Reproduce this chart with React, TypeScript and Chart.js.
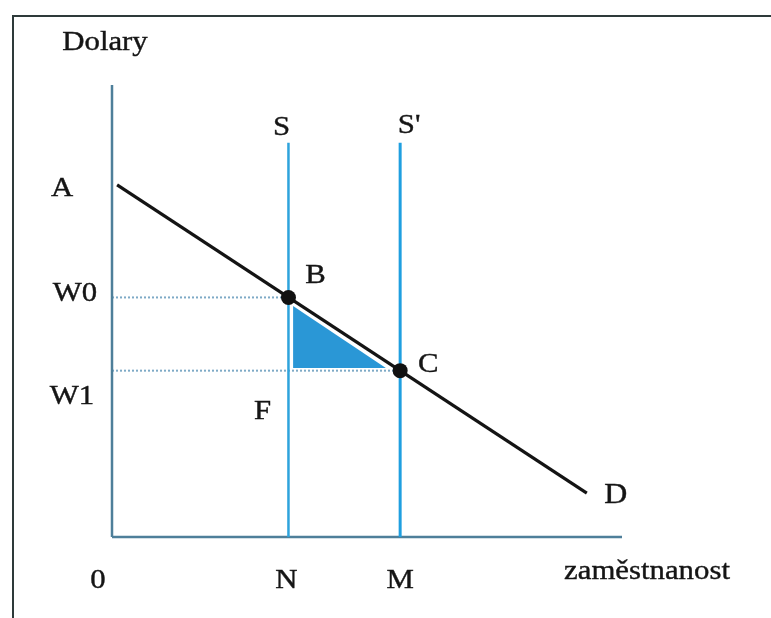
import React, { useEffect, useRef } from "react";
import { Chart, registerables } from "chart.js";

Chart.register(...registerables);

// ---- data (chart units: x = employment 0..100, y = dollars 0..100) ----
const axisX = [0, 100];
const axisY = [0, 100];
const demandX = [1.0, 93.1];
const demandY = [77.9, 9.7];
const N = 34.6;
const M = 56.5;
const W0 = 53.0;
const W1 = 36.8;
const supplyTop = 87.2;
const pointX = [N, M];
const pointY = [W0, W1];
const triangleX = [35.5, 53.7];
const triangleY = [51.1, 37.4];
const triangleBase = 37.4;

type Lbl = { text: string; ax: number; ay: number; dx: number; dy: number; size?: number };

export default function App() {
  const ref = useRef<HTMLCanvasElement | null>(null);

  useEffect(() => {
    const canvas = ref.current;
    if (!canvas) return;

    const labels: Lbl[] = [
      { text: "Dolary", ax: 0, ay: 100, dx: -7, dy: -35 },
      { text: "A", ax: 0, ay: demandY[0], dx: -50, dy: 11 },
      { text: "W0", ax: 0, ay: W0, dx: -37, dy: 4 },
      { text: "W1", ax: 0, ay: W1, dx: -40, dy: 33 },
      { text: "S", ax: N, ay: supplyTop, dx: -7, dy: -8 },
      { text: "S'", ax: M, ay: supplyTop, dx: 9, dy: -10 },
      { text: "B", ax: N, ay: W0, dx: 27, dy: -14 },
      { text: "C", ax: M, ay: W1, dx: 28, dy: 1 },
      { text: "F", ax: N, ay: W1, dx: -26, dy: 48 },
      { text: "D", ax: demandX[1], ay: demandY[1], dx: 29, dy: 10, size: 29 },
      { text: "0", ax: 0, ay: 0, dx: -14, dy: 51 },
      { text: "N", ax: N, ay: 0, dx: -2, dy: 51 },
      { text: "M", ax: M, ay: 0, dx: 0, dy: 51 },
      { text: "zaměstnanost", ax: 100, ay: 0, dx: 25, dy: 42 },
    ];

    const labelPlugin = {
      id: "textLabels",
      afterDatasetsDraw(chart: any) {
        const ctx = chart.ctx as CanvasRenderingContext2D;
        const xs = chart.scales.x;
        const ys = chart.scales.y;
        ctx.save();
        ctx.fillStyle = "#151515";
        ctx.strokeStyle = "#151515";
        ctx.lineWidth = 0.4;
        ctx.textAlign = "center";
        ctx.textBaseline = "alphabetic";
        for (const l of labels) {
          const px = xs.getPixelForValue(l.ax) + l.dx;
          const py = ys.getPixelForValue(l.ay) + l.dy;
          ctx.save();
          ctx.translate(px, py);
          ctx.scale(1.1, 1);
          ctx.font = `${l.size ?? 28}px 'Liberation Serif', 'DejaVu Serif', serif`;
          ctx.fillText(l.text, 0, 0);
          ctx.strokeText(l.text, 0, 0);
          ctx.restore();
        }
        ctx.restore();
      },
    };

    const line = (pts: { x: number; y: number }[], color: string, width: number, order: number, dash?: number[]) => ({
      type: "scatter" as const,
      data: pts,
      showLine: true,
      borderColor: color,
      borderWidth: width,
      borderDash: dash ?? [],
      pointRadius: 0,
      fill: false,
      clip: false as any,
      order,
    });

    const chart = new Chart(canvas, {
      type: "scatter",
      data: {
        datasets: [
          {
            type: "scatter",
            data: triangleX.map((x, i) => ({ x, y: triangleY[i] })),
            showLine: true,
            borderWidth: 0,
            borderColor: "rgba(0,0,0,0)",
            backgroundColor: "#2a97d6",
            pointRadius: 0,
            fill: { value: triangleBase } as any,
            clip: false as any,
            order: 6,
          },
          line([{ x: axisX[0], y: W0 }, { x: N, y: W0 }], "#7eaac6", 2, 5, [2, 2]),
          line([{ x: axisX[0], y: W1 }, { x: M, y: W1 }], "#7eaac6", 2, 5, [2, 2]),
          line([{ x: axisX[0], y: axisY[0] }, { x: axisX[0], y: axisY[1] }], "#4e7f9a", 2.5, 4),
          line([{ x: axisX[0], y: axisY[0] }, { x: axisX[1], y: axisY[0] }], "#4e7f9a", 2.5, 4),
          line([{ x: N, y: axisY[0] }, { x: N, y: supplyTop }], "#2ea3dc", 2.5, 3),
          line([{ x: M, y: axisY[0] }, { x: M, y: supplyTop }], "#1f9fe0", 3, 3),
          line(demandX.map((x, i) => ({ x, y: demandY[i] })), "#141414", 3.2, 2),
          {
            type: "scatter",
            data: pointX.map((x, i) => ({ x, y: pointY[i] })),
            pointRadius: 7.5,
            pointBackgroundColor: "#111111",
            pointBorderWidth: 0,
            showLine: false,
            clip: false as any,
            order: 1,
          },
        ] as any,
      },
      options: {
        animation: false,
        responsive: false,
        devicePixelRatio: 1,
        layout: { padding: { left: 112, right: 149, top: 85, bottom: 81 } },
        plugins: { legend: { display: false }, tooltip: { enabled: false } },
        events: [],
        scales: {
          x: { type: "linear", min: 0, max: 100, display: false },
          y: { type: "linear", min: 0, max: 100, display: false },
        },
      },
      plugins: [labelPlugin],
    });

    return () => chart.destroy();
  }, []);

  return (
    <div style={{ position: "fixed", left: 0, top: 0, width: 771, height: 618, background: "#ffffff", overflow: "hidden" }}>
      <div
        style={{
          position: "absolute",
          left: 12,
          top: 15,
          width: 771,
          height: 618,
          borderTop: "2px solid #2e3a3a",
          borderLeft: "2px solid #2e3a3a",
        }}
      />
      <canvas ref={ref} width={771} height={618} style={{ position: "absolute", left: 0, top: 0, display: "block" }} />
    </div>
  );
}
